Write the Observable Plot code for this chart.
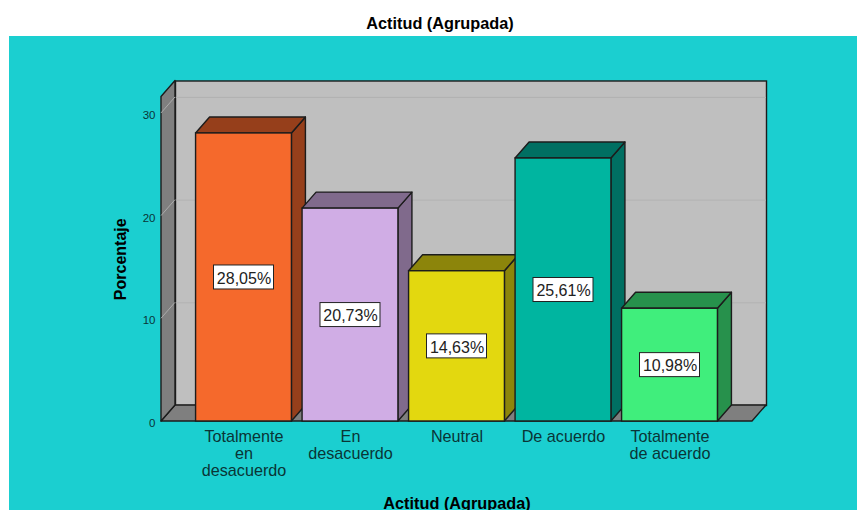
<!DOCTYPE html>
<html>
<head>
<meta charset="utf-8">
<script src="https://cdn.jsdelivr.net/npm/d3@7"></script>
<script src="https://cdn.jsdelivr.net/npm/@observablehq/plot@0.6"></script>
<style>
  html, body { margin: 0; padding: 0; background: #fff; overflow: hidden; }
  #title { height: 36px; width: 880px; text-align: center; font: bold 16.3px/46px "Liberation Sans", Arial, sans-serif; color: #000; }
  #chart { margin-left: 9px; }
  #chart svg { display: block; }
</style>
</head>
<body>
<div id="title">Actitud (Agrupada)</div>
<div id="chart"></div>
<script>
const categories = ["Totalmente\nen\ndesacuerdo", "En\ndesacuerdo", "Neutral", "De acuerdo", "Totalmente\nde acuerdo"];
const percentages = [28.05, 20.73, 14.63, 25.61, 10.98];
const labels = ["28,05%", "20,73%", "14,63%", "25,61%", "10,98%"];
const frontColors = ["#F5692C", "#D0ADE5", "#E3D80F", "#00B5A0", "#40EE7C"];
const shadeColors = ["#963F1B", "#806A8C", "#8C850B", "#006F62", "#27914C"];
const yTicks = [0, 10, 20, 30];
const yMax = 31.6;

const rows = categories.map((c, i) => ({c, v: percentages[i], label: labels[i], front: frontColors[i], shade: shadeColors[i]}));
const DX = 14, DY = -16;
const edge = "#1c1c1c";

function svgEl(name, attrs) {
  const e = document.createElementNS("http://www.w3.org/2000/svg", name);
  for (const k in attrs) e.setAttribute(k, attrs[k]);
  return e;
}
const poly = pts => pts.map(p => p.join(",")).join(" ");
const bandOf = s => s.scales.x.bandwidth;

// left wall + floor of the 3D box, drawn through the scales
function walls(index, {y}, values, {width, marginLeft, marginRight}) {
  const g = svgEl("g", {});
  const x0 = marginLeft, x1 = width - marginRight, y0 = y(0), yt = y(yMax);
  const face = {fill: "#7F7F7F", stroke: edge, "stroke-width": 1.4, "stroke-linejoin": "round"};
  g.append(svgEl("polygon", {points: poly([[x0, y0], [x1, y0], [x1 + DX, y0 + DY], [x0 + DX, y0 + DY]]), ...face}));
  g.append(svgEl("polygon", {points: poly([[x0, y0], [x0 + DX, y0 + DY], [x0 + DX, yt + DY], [x0, yt]]), ...face}));
  for (const t of yTicks.slice(1)) {
    g.append(svgEl("line", {x1: x0, y1: y(t), x2: x0 + DX, y2: y(t) + DY, stroke: "#ABABAB", "stroke-width": 1}));
  }
  return g;
}

// side and top faces of every bar
function barFaces(index, scales) {
  const {x, y} = scales;
  const g = svgEl("g", {});
  const w = bandOf(scales);
  const y0 = y(0);
  for (const r of rows) {
    const a = x(r.c), b = a + w, t = y(r.v);
    const attrs = {fill: r.shade, stroke: edge, "stroke-width": 1.4, "stroke-linejoin": "round"};
    g.append(svgEl("polygon", {points: poly([[b, t], [b + DX, t + DY], [b + DX, y0 + DY], [b, y0]]), ...attrs}));
    g.append(svgEl("polygon", {points: poly([[a, t], [a + DX, t + DY], [b + DX, t + DY], [b, t]]), ...attrs}));
    g.append(svgEl("rect", {x: a, y: t, width: w, height: y0 - t, fill: r.front, stroke: edge, "stroke-width": 1.4}));
  }
  return g;
}

// white label boxes
function labelBoxes(index, scales) {
  const {x, y} = scales;
  const g = svgEl("g", {});
  const w = bandOf(scales);
  for (const r of rows) {
    const cx = x(r.c) + w / 2, cy = y(r.v / 2);
    g.append(svgEl("rect", {x: cx - 30, y: cy - 12, width: 60, height: 24, fill: "#fff", stroke: "#222", "stroke-width": 1}));
  }
  return g;
}

const plot = Plot.plot({
  width: 848,
  height: 474,
  marginLeft: 152,
  marginRight: 105,
  marginTop: 60.5,
  marginBottom: 89,
  style: {background: "#1BCFD0", fontFamily: "'Liberation Sans', Arial, sans-serif", overflow: "hidden"},
  x: {type: "band", domain: categories, paddingInner: 0.1, paddingOuter: 0.3246, round: false, label: null},
  y: {domain: [0, yMax], label: null},
  marks: [
    Plot.frame({dx: DX, dy: DY, fill: "#BFBFBF", stroke: edge, strokeWidth: 1.4}),
    Plot.ruleY(yTicks.slice(1), {dx: DX, dy: DY, stroke: "#B2B2B2", strokeWidth: 1}),
    walls,
    barFaces,
    labelBoxes,
    Plot.text(rows, {x: "c", y: d => d.v / 2, text: "label", fontSize: 16, fill: "#222", dy: 1}),
    Plot.axisY({ticks: yTicks, tickSize: 0, tickPadding: 6, fontSize: 11.5, dy: 2, fill: "#0a3536", label: null}),
    Plot.axisX({tickSize: 0, tickPadding: 9, fontSize: 16.2, lineHeight: 1.03, fill: "#0a3536", label: null}),
    Plot.text(["Actitud (Agrupada)"], {frameAnchor: "bottom", dy: 87, fontSize: 16.3, fontWeight: "bold", fill: "#000"}),
    Plot.text(["Porcentaje"], {frameAnchor: "left", textAnchor: "middle", dx: -41, rotate: -90, fontSize: 16, fontWeight: "bold", fill: "#000"}),
  ]
});
document.getElementById("chart").append(plot);
</script>
</body>
</html>
